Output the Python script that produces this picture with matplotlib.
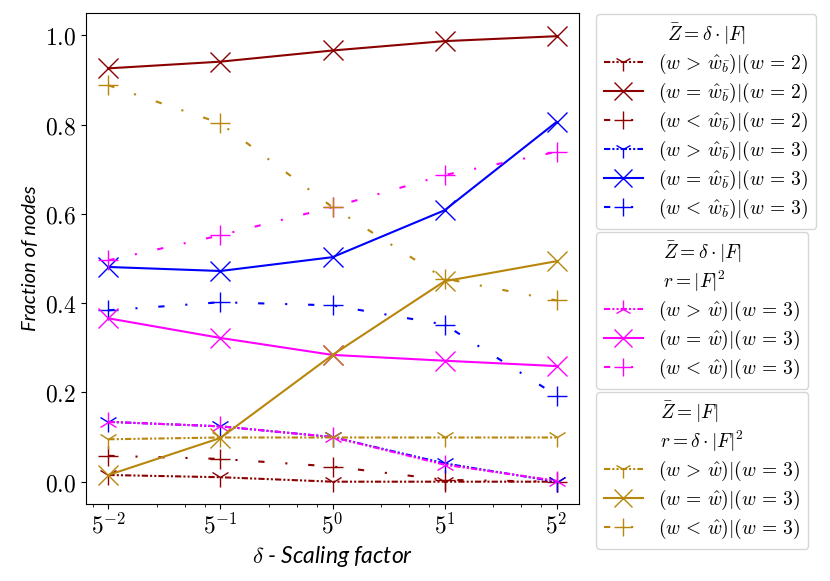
import math
import matplotlib
matplotlib.use("Agg")
import matplotlib.pyplot as plt
from matplotlib.ticker import FixedLocator, FuncFormatter, LogLocator

plt.rcParams['mathtext.fontset'] = 'cm'

delta = [5**-2, 5**-1, 5**0, 5**1, 5**2]

# Zbar = delta*|F|, w = 2
red_gt = [0.015, 0.010, 0.0, 0.0, 0.0]
red_eq = [0.926, 0.941, 0.966, 0.987, 0.998]
red_lt = [0.058, 0.051, 0.034, 0.004, 0.0]
# Zbar = delta*|F|, w = 3
blue_gt = [0.134, 0.124, 0.100, 0.041, 0.0]
blue_eq = [0.481, 0.472, 0.503, 0.608, 0.806]
blue_lt = [0.384, 0.402, 0.395, 0.352, 0.193]
# Zbar = delta*|F|, r = |F|^2
mag_gt = [0.134, 0.124, 0.100, 0.038, 0.002]
mag_eq = [0.366, 0.322, 0.284, 0.271, 0.259]
mag_lt = [0.496, 0.552, 0.615, 0.687, 0.739]
# Zbar = |F|, r = delta*|F|^2
gold_gt = [0.095, 0.099, 0.099, 0.099, 0.099]
gold_eq = [0.015, 0.098, 0.284, 0.449, 0.494]
gold_lt = [0.888, 0.803, 0.615, 0.455, 0.406]

gt_style = (0, (3, 1, 1, 1, 1, 1))
lt_style = (0, (3, 10, 1, 10))
lw = 1.5
ms = 14

fig = plt.figure(figsize=(8.3, 5.81), dpi=100)
ax = fig.add_axes([86/830, 1-504/581, (579-86)/830, (504-13)/581])
ax.set_xscale('log', base=5)

lab_b = r'$(w \,%s\, \hat{w}_{\bar{b}})|(w \,=\, %d)$'
lab_w = r'$(w \,%s\, \hat{w})|(w \,=\, 3)$'

h1 = []
h1 += ax.plot(delta, red_gt, color='darkred', ls=gt_style, lw=lw, marker='1', ms=ms, label=lab_b % ('>', 2))
h1 += ax.plot(delta, red_eq, color='darkred', ls='-', lw=lw, marker='x', ms=ms, label=lab_b % ('=', 2))
h1 += ax.plot(delta, red_lt, color='darkred', ls=lt_style, lw=lw, marker='+', ms=ms, label=lab_b % ('<', 2))
h1 += ax.plot(delta, blue_gt, color='blue', ls=gt_style, lw=lw, marker='1', ms=ms, label=lab_b % ('>', 3))
h1 += ax.plot(delta, blue_eq, color='blue', ls='-', lw=lw, marker='x', ms=ms, label=lab_b % ('=', 3))
h1 += ax.plot(delta, blue_lt, color='blue', ls=lt_style, lw=lw, marker='+', ms=ms, label=lab_b % ('<', 3))

h2 = []
h2 += ax.plot(delta, mag_gt, color='magenta', ls=gt_style, lw=lw, marker='2', ms=ms, label=lab_w % '>')
h2 += ax.plot(delta, mag_eq, color='magenta', ls='-', lw=lw, marker='x', ms=ms, label=lab_w % '=')
h2 += ax.plot(delta, mag_lt, color='magenta', ls=lt_style, lw=lw, marker='+', ms=ms, label=lab_w % '<')

h3 = []
h3 += ax.plot(delta, gold_gt, color='darkgoldenrod', ls=gt_style, lw=lw, marker='1', ms=ms, label=lab_w % '>')
h3 += ax.plot(delta, gold_eq, color='darkgoldenrod', ls='-', lw=lw, marker='x', ms=ms, label=lab_w % '=')
h3 += ax.plot(delta, gold_lt, color='darkgoldenrod', ls=lt_style, lw=lw, marker='+', ms=ms, label=lab_w % '<')

ax.set_ylim(-0.05, 1.05)
ax.set_yticks([0.0, 0.2, 0.4, 0.6, 0.8, 1.0])
ax.yaxis.set_major_formatter(FuncFormatter(lambda v, p: r'$%.1f$' % v))
ax.xaxis.set_major_locator(FixedLocator(delta))
ax.xaxis.set_major_formatter(FuncFormatter(lambda v, p: r'$5^{%d}$' % round(math.log(v, 5))))
ax.xaxis.set_minor_locator(LogLocator(base=5, subs=[2, 3, 4]))
ax.tick_params(labelsize=17)

ax.set_xlabel(r'$\delta$ - Scaling factor', fontsize=16.5, family='Lato', style='italic')
ax.set_ylabel('Fraction of nodes', fontsize=14.5, family='Lato', style='italic')

legkw = dict(loc='upper left', bbox_transform=fig.transFigure, borderaxespad=0,
             fontsize=14, title_fontsize=14, labelspacing=0.25, markerscale=0.9)
leg1 = ax.legend(handles=h1, title=r'$\bar{Z} = \delta \cdot |F|$', bbox_to_anchor=(596/830, 1-14/581), **legkw)
ax.add_artist(leg1)
leg2 = ax.legend(handles=h2, title='$\\bar{Z} = \\delta \\cdot |F|$\n$r = |F|^2$', bbox_to_anchor=(596/830, 1-232/581), **legkw)
leg2.get_title().set_multialignment('left')
ax.add_artist(leg2)
leg3 = ax.legend(handles=h3, title='$\\bar{Z} = |F|$\n$r = \\delta \\cdot |F|^2$', bbox_to_anchor=(596/830, 1-392/581), **legkw)
leg3.get_title().set_multialignment('left')

fig.savefig('out.png', dpi=100)
